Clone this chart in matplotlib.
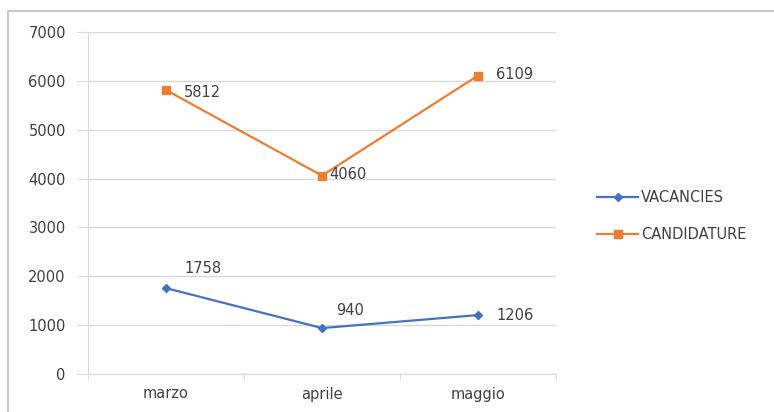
import matplotlib
matplotlib.use("Agg")
from matplotlib import pyplot as plt
from matplotlib.patches import Rectangle

plt.rcParams["font.family"] = ["DejaVu Sans"]

mesi = ["marzo", "aprile", "maggio"]
vacancies = [1758, 940, 1206]
candidature = [5812, 4060, 6109]
y_ticks = [0, 1000, 2000, 3000, 4000, 5000, 6000, 7000]

BLU = "#4472C4"
ARANCIO = "#ED7D31"
GRIGIO = "#D9D9D9"
TESTO = "#404040"
FS = 10.5

fig = plt.figure(figsize=(7.74, 4.12), dpi=100)
ax = fig.add_axes([88 / 774, 1 - 374 / 412, 468 / 774, 342 / 412])

x = list(range(len(mesi)))
ax.plot(x, vacancies, color=BLU, lw=1.6, marker="D", ms=4, label="VACANCIES")
ax.plot(x, candidature, color=ARANCIO, lw=1.6, marker="s", ms=6, label="CANDIDATURE")

# etichette dei valori (spostamenti in punti)
offs_cand = [(13, -2), (5, 1), (13, 1)]
offs_vac = [(13, 14), (10, 13), (13, 0)]
for xi, v, off in zip(x, candidature, offs_cand):
    ax.annotate(str(v), (xi, v), xytext=off, textcoords="offset points",
                ha="left", va="center", fontsize=FS, color=TESTO)
for xi, v, off in zip(x, vacancies, offs_vac):
    ax.annotate(str(v), (xi, v), xytext=off, textcoords="offset points",
                ha="left", va="center", fontsize=FS, color=TESTO)

ax.set_xlim(-0.5, 2.5)
ax.set_ylim(0, 7000)
ax.set_yticks(y_ticks)
ax.set_xticks(x)
ax.set_xticklabels(mesi)
ax.set_xticks([-0.5, 0.5, 1.5, 2.5], minor=True)
ax.yaxis.grid(True, color=GRIGIO, lw=1)
ax.set_axisbelow(True)
for lato in ["top", "right"]:
    ax.spines[lato].set_visible(False)
ax.spines["left"].set_color(GRIGIO)
ax.spines["bottom"].set_color(GRIGIO)
ax.tick_params(axis="x", which="major", length=0, pad=9, labelsize=FS, labelcolor=TESTO)
ax.tick_params(axis="x", which="minor", length=4, color=GRIGIO)
ax.tick_params(axis="y", length=8, color=GRIGIO, pad=8, labelsize=FS, labelcolor=TESTO)

leg = fig.legend(loc="center left", bbox_to_anchor=(584 / 774, 1 - 216 / 412),
                 frameon=False, fontsize=FS, handlelength=2.8, handletextpad=0.2,
                 labelspacing=1.5)
for t in leg.get_texts():
    t.set_color(TESTO)

# bordo del grafico
fig.patches.append(Rectangle((8 / 774, -0.1), 1.2, 1 - 11 / 412 + 0.1,
                             transform=fig.transFigure, fill=False,
                             edgecolor="#BFBFBF", lw=1.2))

plt.savefig("out.png", dpi=100)
